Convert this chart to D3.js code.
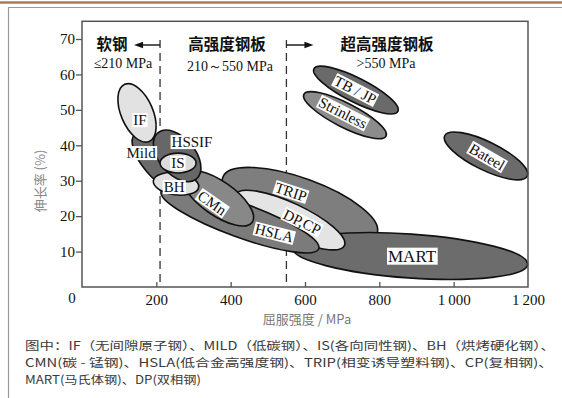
<!DOCTYPE html>
<html><head><meta charset="utf-8">
<script src="https://cdn.jsdelivr.net/npm/d3@7"></script>
<style>body{margin:0;background:#fff} svg{display:block}</style>
</head><body>
<svg id="chart" width="562" height="398"></svg>
<script>
// Steel grade regions. Each region is an ellipse whose long axis runs from
// (ysFrom, elFrom) to (ysTo, elTo); halfWidth is its half-thickness in % elongation.
const grades    = ["TRIP", "MART", "DP,CP", "HSLA", "CMn", "Mild", "BH", "HSSIF", "IS", "IF", "TB / JP", "Strinless", "Bateel"];
const ysFrom    = [379, 566, 413, 213, 273, 142, 192, 204, 210, 115, 624, 597, 976];
const elFrom    = [31.0, 11.1, 26.1, 27.0, 31.9, 43.1, 30.0, 43.5, 35.0, 57.2, 61.6, 54.4, 42.7];
const ysTo      = [794, 1199, 706, 637, 458, 267, 314, 308, 307, 181, 850, 818, 1198];
const elTo      = [15.2, 6.4, 11.7, 10.8, 18.3, 27.5, 28.2, 30.5, 35.0, 41.1, 49.6, 42.6, 31.3];
const halfWidth = [7.6, 6.2, 4.8, 4.8, 4.8, 4.2, 3.1, 5.1, 2.8, 4.5, 3.4, 3.4, 4.0];
// where each grade name sits (yield strength MPa, elongation %)
const labelYs   = [562, 888, 592, 517, 350, 159, 248, 296, 258, 156, 735, 702, 1090];
const labelEl   = [26.8, 8.7, 18.3, 15.2, 23.7, 37.8, 28.2, 40.9, 35.0, 47.1, 55.6, 49.1, 36.7];

// strength class boundaries (MPa) and their headings
const boundaries   = [210, 550];
const classNames   = ["软钢", "高强度钢板", "超高强度钢板"];
const classRanges  = ["≤210 MPa", "210～550 MPa", ">550 MPa"];

const xTicks      = [200, 400, 600, 800, 1000, 1200];
const xTickLabels = ["200", "400", "600", "800", "1\u2009000", "1\u2009200"];
const yTicks      = [10, 20, 30, 40, 50, 60, 70];

const xTitle = "屈服强度 / MPa";
const yTitle = "伸长率 (%)";
const caption = [
  "图中：IF（无间隙原子钢）、MILD（低碳钢）、IS(各向同性钢)、BH（烘烤硬化钢）、",
  "CMN(碳 - 锰钢)、HSLA(低合金高强度钢)、TRIP(相变诱导塑料钢)、CP(复相钢)、",
  "MART(马氏体钢)、DP(双相钢)"
];

// ---- styles ----
const fills = {
  "TRIP": "#7e7e7e", "MART": "#6c6c6c", "DP,CP": "#e4e4e4", "HSLA": "#7b7b7b",
  "CMn": "#888888", "Mild": "#6a6a6a", "BH": "#e0e0e0", "HSSIF": "#676767",
  "IS": "#dcdcdc", "IF": "#e2e2e2", "TB / JP": "#6a6a6a", "Strinless": "#8c8c8c", "Bateel": "#6b6b6b"
};
const tiltedLabels = {"TRIP": 18, "DP,CP": 26, "HSLA": 14, "CMn": 35, "TB / JP": 27, "Strinless": 27, "Bateel": 30};
const serif = "'Liberation Serif','Times New Roman',serif";
const cjk = "'Noto Sans CJK SC','Noto Sans',sans-serif";

const svg = d3.select("#chart");
const x = d3.scaleLinear().domain([0, 1200]).range([82, 528]);
const y = d3.scaleLinear().domain([0, 75]).range([287, 21.3]);

// page decoration: rule at top and panel frame
svg.append("line").attr("x1", 0).attr("x2", 562).attr("y1", 2.5).attr("y2", 2.5)
  .attr("stroke", "#a67c5e").attr("stroke-width", 2.5);
svg.append("path").attr("d", "M8.5,398 V7.5 H562").attr("fill", "none")
  .attr("stroke", "#9a9a9a").attr("stroke-width", 1.2);

// class boundary lines
const [bx0, bx1] = x.range();
boundaries.forEach(b => {
  svg.append("line").attr("x1", x(b)).attr("x2", x(b)).attr("y1", 40).attr("y2", y(0))
    .attr("stroke", "#333").attr("stroke-width", 1.3).attr("stroke-dasharray", "8,5");
});

// regions
const plot = svg.append("g");
grades.forEach((g, i) => {
  const p1 = [x(ysFrom[i]), y(elFrom[i])], p2 = [x(ysTo[i]), y(elTo[i])];
  const cx = (p1[0] + p2[0]) / 2, cy = (p1[1] + p2[1]) / 2;
  const a = Math.hypot(p2[0] - p1[0], p2[1] - p1[1]) / 2;
  const b = y(0) - y(halfWidth[i]);
  const ang = Math.atan2(p2[1] - p1[1], p2[0] - p1[0]) * 180 / Math.PI;
  plot.append("ellipse")
    .attr("transform", `translate(${cx},${cy}) rotate(${ang})`)
    .attr("rx", a).attr("ry", b)
    .attr("fill", fills[g]).attr("stroke", "#111").attr("stroke-width", 1.6);
});

// region names on white tags
grades.forEach((g, i) => {
  const t = svg.append("g")
    .attr("transform", `translate(${x(labelYs[i])},${y(labelEl[i])}) rotate(${tiltedLabels[g] || 0})`);
  const rect = t.append("rect").attr("fill", "#fff");
  const txt = t.append("text").text(g)
    .attr("font-family", serif).attr("font-size", g === "MART" ? 17 : 15)
    .attr("text-anchor", "middle").attr("dominant-baseline", "central").attr("fill", "#111");
  const bb = txt.node().getBBox();
  rect.attr("x", bb.x - 1).attr("y", bb.y + 1).attr("width", bb.width + 2).attr("height", bb.height - 2);
});

// plot frame
svg.append("rect").attr("x", bx0).attr("y", y(75)).attr("width", bx1 - bx0).attr("height", y(0) - y(75))
  .attr("fill", "none").attr("stroke", "#555").attr("stroke-width", 1.5);

// axes
const yAxis = svg.append("g").attr("transform", `translate(${bx0},0)`)
  .call(d3.axisLeft(y).tickValues(yTicks).tickSize(6).tickPadding(1));
const xAxis = svg.append("g").attr("transform", `translate(0,${y(0)})`)
  .call(d3.axisBottom(x).tickValues(xTicks).tickFormat((d, i) => xTickLabels[i]).tickSizeInner(-5).tickSizeOuter(0).tickPadding(7));
[yAxis, xAxis].forEach(ax => {
  ax.select(".domain").remove();
  ax.selectAll(".tick line").attr("stroke", "#555").attr("stroke-width", 1.3);
  ax.selectAll(".tick text").attr("font-family", serif).attr("font-size", 15).attr("fill", "#111");
});
xAxis.selectAll(".tick").filter(d => d === 1200).select("line").remove();
svg.append("text").text("0").attr("x", 72).attr("y", 298)
  .attr("font-family", serif).attr("font-size", 15).attr("text-anchor", "middle")
  .attr("dominant-baseline", "central").attr("fill", "#111");

// axis titles
svg.append("text").text(xTitle).attr("x", 307).attr("y", 318)
  .attr("font-family", cjk).attr("font-size", 13).attr("fill", "#777")
  .attr("text-anchor", "middle").attr("dominant-baseline", "central");
svg.append("text").text(yTitle)
  .attr("transform", "translate(39,181) rotate(-90)")
  .attr("font-family", cjk).attr("font-size", 13).attr("fill", "#888")
  .attr("text-anchor", "middle").attr("dominant-baseline", "central");

// class headings and arrows
const headX = [112, 227, 387];
const rangeX = [123, 230, 386];
const rangeY = [63, 66.5, 63];
classNames.forEach((n, i) => {
  svg.append("text").text(n).attr("x", headX[i]).attr("y", 43)
    .attr("font-family", cjk).attr("font-weight", 700).attr("font-size", 15.5).attr("fill", "#111")
    .attr("text-anchor", "middle").attr("dominant-baseline", "central");
  svg.append("text").text(classRanges[i]).attr("x", rangeX[i]).attr("y", rangeY[i])
    .attr("font-family", serif).attr("font-size", 14).attr("fill", "#111")
    .attr("text-anchor", "middle").attr("dominant-baseline", "central");
});
const arrow = (from, to) => {
  const dir = Math.sign(to - from);
  svg.append("line").attr("x1", from).attr("x2", to - dir * 6).attr("y1", 45).attr("y2", 45)
    .attr("stroke", "#111").attr("stroke-width", 1.4);
  svg.append("path").attr("d", `M${to},45 L${to - dir * 9},41.8 L${to - dir * 9},48.2 Z`).attr("fill", "#111");
};
arrow(x(boundaries[0]), x(boundaries[0]) - 26);
arrow(x(boundaries[1]), x(boundaries[1]) + 27);

// caption
const capWidths = [530, 528, 176];
caption.forEach((c, i) => {
  svg.append("text").text(c).attr("x", 25).attr("y", 345 + i * 17)
    .attr("font-family", cjk).attr("font-size", 11.5).attr("fill", "#3a3a3a")
    .attr("dominant-baseline", "central")
    .attr("textLength", capWidths[i]).attr("lengthAdjust", "spacingAndGlyphs");
});
</script>
</body></html>
